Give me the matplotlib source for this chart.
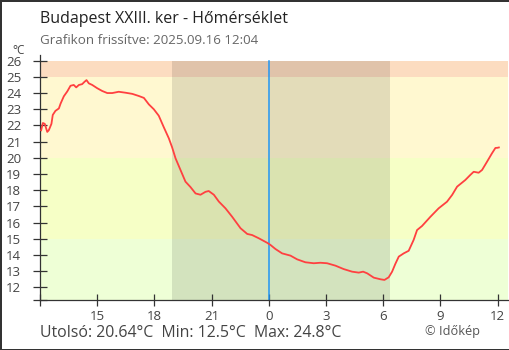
import matplotlib
matplotlib.use("Agg")
import matplotlib.pyplot as plt

plt.rcParams["font.family"] = ["Open Sans", "DejaVu Sans"]

# hours relative to midnight (2025.09.16 00:00), temperature in °C
hours = [-11.94, -11.85, -11.75, -11.62, -11.54, -11.40, -11.33, -11.19, -11.01, -10.92,
         -10.75, -10.57, -10.40, -10.23, -10.10, -9.96, -9.79, -9.66, -9.56, -9.44,
         -9.26, -9.00, -8.74, -8.47, -8.21, -7.87, -7.51, -7.16, -6.82, -6.55,
         -6.29, -6.03, -5.77, -5.51, -5.24, -5.07, -4.89, -4.63, -4.37, -4.11,
         -3.84, -3.58, -3.32, -3.15, -2.88, -2.62, -2.27, -1.92, -1.48, -1.13,
         -0.87, -0.52, -0.08, 0.09, 0.35, 0.70, 1.14, 1.49, 1.92, 2.36,
         2.71, 3.06, 3.50, 3.93, 4.37, 4.72, 4.95, 5.16, 5.51, 5.86,
         6.07, 6.29, 6.47, 6.64, 6.82, 7.08, 7.34, 7.60, 7.78, 8.04,
         8.48, 8.91, 9.35, 9.62, 9.88, 10.31, 10.57, 10.75, 11.01, 11.19,
         11.45, 11.71, 11.89, 12.00, 12.07]
temps = [21.7, 22.15, 22.1, 21.6, 21.7, 22.1, 22.65, 22.9, 23.05, 23.35,
         23.8, 24.1, 24.45, 24.5, 24.35, 24.5, 24.55, 24.7, 24.8, 24.6,
         24.5, 24.3, 24.13, 24.0, 24.0, 24.08, 24.02, 23.95, 23.82, 23.7,
         23.3, 23.0, 22.6, 21.9, 21.2, 20.65, 19.97, 19.25, 18.53, 18.2,
         17.8, 17.72, 17.9, 17.95, 17.72, 17.3, 16.88, 16.36, 15.65, 15.3,
         15.23, 15.03, 14.75, 14.62, 14.37, 14.10, 13.96, 13.73, 13.55, 13.49,
         13.52, 13.49, 13.34, 13.13, 12.97, 12.91, 12.97, 12.87, 12.6, 12.5,
         12.46, 12.62, 12.97, 13.45, 13.9, 14.1, 14.26, 14.93, 15.54, 15.79,
         16.36, 16.88, 17.29, 17.71, 18.22, 18.63, 18.94, 19.14, 19.08, 19.25,
         19.76, 20.28, 20.61, 20.62, 20.64]

# temperature bands (low, high, colour)
bands = [(11.0, 15, "#eeffd6"), (15, 20, "#f6ffc6"), (20, 25, "#fff8d0"), (25, 26, "#fcdcc0")]
sunset, sunrise = -5.09, 6.37
xticks = [-12, -9, -6, -3, 0, 3, 6, 9, 12]
xlabels = ["", "15", "18", "21", "0", "3", "6", "9", "12"]
yticks = list(range(12, 27))

TXT = "#444444"
YLO, YHI = 11.22, 26.35
band_top = (26 - YLO) / (YHI - YLO)

fig = plt.figure(figsize=(5.1, 3.5), dpi=100)
fig.patch.set_edgecolor("#333333")
fig.patch.set_linewidth(2)
ax = fig.add_axes([40 / 510, 1 - 300 / 350, 468 / 510, 245 / 350])
ax.set_xlim(-12, 12.55)
ax.set_ylim(YLO, YHI)

for lo, hi, c in bands:
    ax.axhspan(lo, hi, color=c, lw=0, zorder=0)
ax.axvspan(sunset, sunrise, ymax=band_top, color="black", alpha=0.11, lw=0, zorder=1)
ax.axvline(0, ymax=band_top, color="#2196f3", lw=1.1, zorder=2)
ax.plot(hours, temps, color="#ff4040", lw=1.3, zorder=3)

for s in ["top", "right"]:
    ax.spines[s].set_visible(False)
for s in ["left", "bottom"]:
    ax.spines[s].set_color("#333333")
    ax.spines[s].set_linewidth(0.9)

ax.set_yticks([YLO] + yticks)
ax.set_yticklabels([""] + [str(v) for v in yticks])
ax.set_xticks(xticks)
ax.set_xticklabels(xlabels)
ax.tick_params(axis="y", direction="inout", length=10, width=0.9, color="#333333",
               labelsize=9.5, labelcolor=TXT, pad=8.5)
ax.tick_params(axis="x", direction="inout", length=9, width=0.9, color="#333333",
               labelsize=9.5, labelcolor=TXT, pad=3)

fig.text(40 / 510, 1 - 19 / 350, "Budapest XXIII. ker - Hőmérséklet", fontsize=11.5, color="#222222", va="center")
fig.text(40 / 510, 1 - 41 / 350, "Grafikon frissítve: 2025.09.16 12:04", fontsize=9.6, color="#666666", va="center")
fig.text(12 / 510, 1 - 50 / 350, "°C", fontsize=8.5, color=TXT, va="center")
fig.text(40 / 510, 1 - 333 / 350, "Utolsó: 20.64°C  Min: 12.5°C  Max: 24.8°C", fontsize=11.4, color=TXT, va="center")
fig.text(425 / 510, 1 - 332 / 350, "© Időkép", fontsize=9.2, color="#555555", va="center")

fig.savefig("out.png", dpi=100)
